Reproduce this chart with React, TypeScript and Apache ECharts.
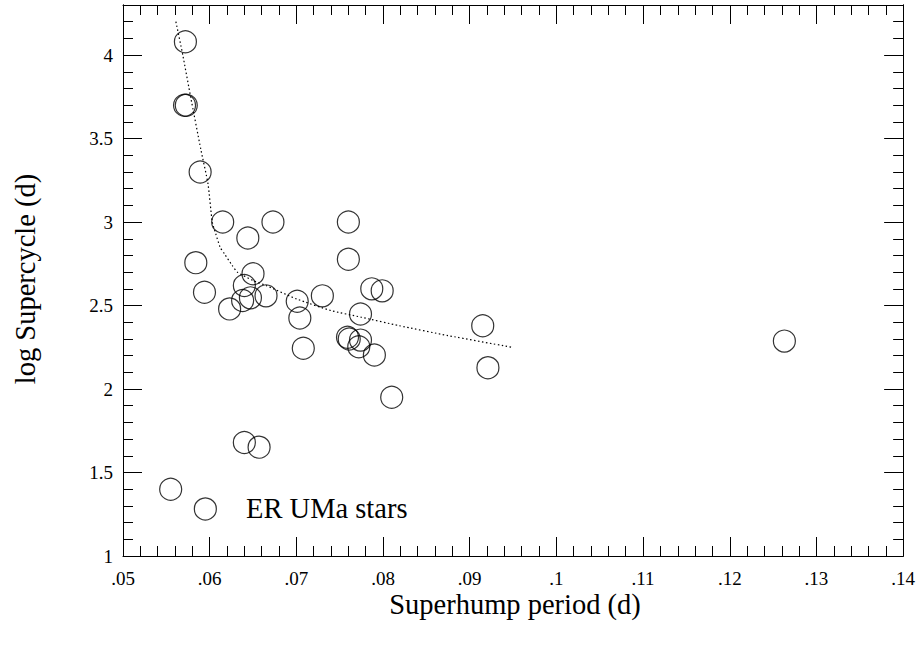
import React, { useEffect, useRef } from "react";
import * as echarts from "echarts";

// Superhump period (d) and log supercycle (d) for each star
const periods = [
  0.0572, 0.0571, 0.0573, 0.0589, 0.0615, 0.0644, 0.0673, 0.076, 0.0584, 0.0594,
  0.0623, 0.064, 0.065, 0.0638, 0.0647, 0.0665, 0.0701, 0.0704, 0.0708, 0.073,
  0.076, 0.0759, 0.0761, 0.0774, 0.0772, 0.0774, 0.0787, 0.0799, 0.079, 0.081,
  0.064, 0.0657, 0.0555, 0.0595, 0.0915, 0.0921, 0.1263,
];
const logSupercycles = [
  4.08, 3.7, 3.7, 3.3, 3.0, 2.905, 3.0, 3.0, 2.757, 2.58,
  2.48, 2.62, 2.69, 2.53, 2.546, 2.558, 2.526, 2.425, 2.244, 2.558,
  2.777, 2.31, 2.3, 2.293, 2.253, 2.449, 2.6, 2.588, 2.204, 1.951,
  1.68, 1.652, 1.4, 1.282, 2.379, 2.128, 2.287,
];

// Dotted trend curve
const curveX = [
  0.0561, 0.0569, 0.0578, 0.059, 0.0598, 0.0603, 0.0607, 0.0612, 0.0617, 0.0626,
  0.0632, 0.065, 0.0665, 0.07, 0.074, 0.0775, 0.0818, 0.0875, 0.0949,
];
const curveY = [
  4.2, 4.0, 3.75, 3.43, 3.23, 3.0, 2.93, 2.85, 2.81, 2.74,
  2.7, 2.65, 2.62, 2.54, 2.47, 2.43, 2.38, 2.32, 2.25,
];

const xTitle = "Superhump period (d)";
const yTitle = "log Supercycle (d)";
const annotation = "ER UMa stars";

const FONT = "Liberation Serif";

export default function App() {
  const ref = useRef<HTMLDivElement>(null);
  useEffect(() => {
    if (!ref.current) return;
    const chart = echarts.init(ref.current, null, { renderer: "svg" });
    const line = { show: true, onZero: false, lineStyle: { color: "#000", width: 1 } };
    const xFmt = (v: number) => String(+v.toFixed(3)).replace(/^0/, "");
    const baseX = {
      type: "value" as const,
      min: 0.05,
      max: 0.14,
      interval: 0.01,
      axisLine: line,
      axisTick: { show: true, inside: true, length: 19, lineStyle: { color: "#000", width: 1 } },
      minorTick: { show: true, splitNumber: 5, length: 10, lineStyle: { color: "#000", width: 1 } },
      splitLine: { show: false },
      minorSplitLine: { show: false },
    };
    const baseY = (interval: number, len: number, position: string, labels: boolean) => ({
      type: "value" as const,
      min: 1,
      max: 4.3,
      interval,
      position,
      axisLine: line,
      axisTick: { show: true, inside: true, length: len, lineStyle: { color: "#000", width: 1 } },
      splitLine: { show: false },
      axisLabel: labels
        ? {
            show: true,
            showMaxLabel: false,
            margin: 10,
            color: "#000",
            fontFamily: FONT,
            fontSize: 19,
            formatter: (v: number) => (v > 4.01 ? "" : String(+v.toFixed(1))),
          }
        : { show: false },
    });
    chart.setOption({
      animation: false,
      backgroundColor: "#fff",
      textStyle: { fontFamily: FONT },
      grid: { left: 123, top: 5, width: 782, height: 551, containLabel: false },
      xAxis: [
        {
          ...baseX,
          position: "bottom",
          axisLabel: { show: true, margin: 13, color: "#000", fontFamily: FONT, fontSize: 19, formatter: xFmt },
        },
        { ...baseX, position: "top", axisLabel: { show: false } },
      ],
      yAxis: [
        baseY(0.5, 19, "left", true),
        baseY(0.1, 10, "left", false),
        baseY(0.5, 19, "right", false),
        baseY(0.1, 10, "right", false),
      ],
      series: [
        {
          type: "line",
          data: curveX.map((x, i) => [x, curveY[i]]),
          showSymbol: false,
          smooth: 0.2,
          lineStyle: { color: "#000", width: 1.2, type: [1.5, 2.5] },
          silent: true,
          z: 1,
        },
        {
          type: "scatter",
          data: periods.map((x, i) => [x, logSupercycles[i]]),
          symbol: "circle",
          symbolSize: 22,
          itemStyle: { color: "transparent", borderColor: "#000", borderWidth: 1.2 },
          z: 2,
        },
      ],
      graphic: [
        {
          type: "text",
          x: 246,
          y: 508,
          style: { text: annotation, fontFamily: FONT, fontSize: 28.5, fill: "#000", align: "left", verticalAlign: "middle" },
        },
        {
          type: "text",
          x: 515,
          y: 604,
          style: { text: xTitle, fontFamily: FONT, fontSize: 28.5, fill: "#000", align: "center", verticalAlign: "middle" },
        },
        {
          type: "text",
          x: 25,
          y: 279,
          rotation: Math.PI / 2,
          style: { text: yTitle, fontFamily: FONT, fontSize: 28.5, fill: "#000", align: "center", verticalAlign: "middle" },
        },
      ],
    });
    return () => chart.dispose();
  }, []);
  return (
    <div
      ref={ref}
      style={{ position: "fixed", left: 0, top: 0, width: 918, height: 647, background: "#fff" }}
    />
  );
}
